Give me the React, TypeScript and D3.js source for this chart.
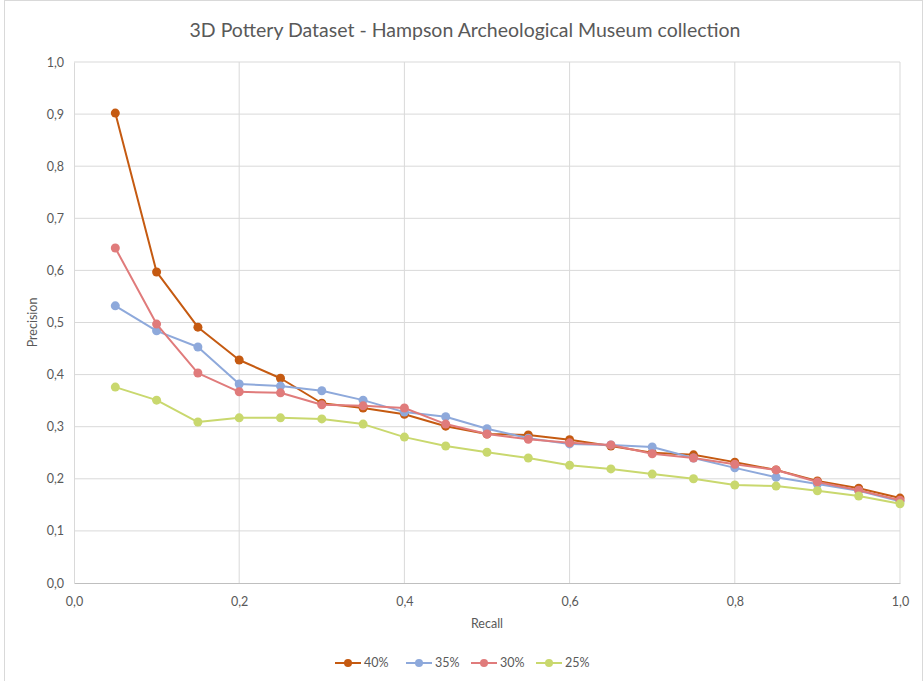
import { useEffect, useRef } from 'react'
import * as d3 from 'd3'

const recall = [0.05, 0.1, 0.15, 0.2, 0.25, 0.3, 0.35, 0.4, 0.45, 0.5, 0.55, 0.6, 0.65, 0.7, 0.75, 0.8, 0.85, 0.9, 0.95, 1.0]

const p40 = [0.902, 0.597, 0.491, 0.428, 0.393, 0.345, 0.336, 0.324, 0.301, 0.286, 0.284, 0.275, 0.263, 0.25, 0.246, 0.232, 0.217, 0.196, 0.182, 0.163]
const p35 = [0.532, 0.484, 0.453, 0.382, 0.378, 0.369, 0.351, 0.328, 0.319, 0.296, 0.278, 0.267, 0.265, 0.261, 0.24, 0.221, 0.203, 0.19, 0.177, 0.157]
const p30 = [0.643, 0.497, 0.403, 0.367, 0.365, 0.342, 0.34, 0.336, 0.305, 0.286, 0.276, 0.269, 0.265, 0.248, 0.24, 0.228, 0.217, 0.194, 0.178, 0.159]
const p25 = [0.376, 0.351, 0.309, 0.317, 0.317, 0.315, 0.305, 0.28, 0.263, 0.251, 0.24, 0.226, 0.219, 0.209, 0.2, 0.188, 0.186, 0.177, 0.167, 0.152]

const seriesNames = ['40%', '35%', '30%', '25%']
const seriesColors = ['#C55A11', '#8EA9DB', '#E07B7B', '#C9D86E']
const seriesValues = [p40, p35, p30, p25]

const xTicks = [0, 0.2, 0.4, 0.6, 0.8, 1.0]
const yTicks = [0, 0.1, 0.2, 0.3, 0.4, 0.5, 0.6, 0.7, 0.8, 0.9, 1.0]

export default function App() {
  const svgRef = useRef<SVGSVGElement>(null)
  const width = 923
  const height = 681

  useEffect(() => {
    if (!svgRef.current) return
    document.body.style.margin = '0'
    const svg = d3.select(svgRef.current)
    svg.selectAll('*').remove()

    const font = 'Lato, "Open Sans", sans-serif'
    const margin = { top: 62, right: 23, bottom: 98, left: 74 }
    const innerW = width - margin.left - margin.right
    const innerH = height - margin.top - margin.bottom

    // chart border
    svg.append('rect')
      .attr('x', 4.5).attr('y', 0.5)
      .attr('width', width - 5).attr('height', height)
      .attr('fill', 'white')
      .attr('stroke', '#d9d9d9')

    const x = d3.scaleLinear().domain([0, 1]).range([0, innerW])
    const y = d3.scaleLinear().domain([0, 1]).range([innerH, 0])

    const g = svg.append('g').attr('transform', `translate(${margin.left},${margin.top})`)

    // gridlines
    g.append('g')
      .selectAll('line.h')
      .data(yTicks.slice(1))
      .enter().append('line')
      .attr('x1', 0).attr('x2', innerW)
      .attr('y1', d => y(d)).attr('y2', d => y(d))
      .attr('stroke', '#d9d9d9').attr('stroke-width', 1)

    g.append('g')
      .selectAll('line.v')
      .data(xTicks.slice(1))
      .enter().append('line')
      .attr('x1', d => x(d)).attr('x2', d => x(d))
      .attr('y1', 0).attr('y2', innerH)
      .attr('stroke', '#d9d9d9').attr('stroke-width', 1)

    // axes
    const fmt = (d: d3.NumberValue) => d3.format('.1f')(d as number).replace('.', ',')

    const xAxis = g.append('g')
      .attr('transform', `translate(0,${innerH})`)
      .call(d3.axisBottom(x).tickValues(xTicks).tickFormat(fmt).tickSize(0).tickPadding(14))
    xAxis.select('.domain').attr('stroke', '#bfbfbf')
    xAxis.selectAll('text').attr('fill', '#595959').style('font-size', '12.5px').style('font-family', font)

    const yAxis = g.append('g')
      .call(d3.axisLeft(y).tickValues(yTicks).tickFormat(fmt).tickSize(0).tickPadding(10))
    yAxis.select('.domain').attr('stroke', '#d9d9d9')
    yAxis.selectAll('text').attr('fill', '#595959').style('font-size', '12.5px').style('font-family', font)

    // lines and markers
    const line = d3.line<number>()
      .x((_, i) => x(recall[i]))
      .y(d => y(d))

    seriesValues.forEach((vals, si) => {
      g.append('path')
        .datum(vals)
        .attr('fill', 'none')
        .attr('stroke', seriesColors[si])
        .attr('stroke-width', 2)
        .attr('stroke-linejoin', 'round')
        .attr('d', line)

      g.selectAll(`.m${si}`)
        .data(vals)
        .enter().append('circle')
        .attr('class', `m${si}`)
        .attr('cx', (_, i) => x(recall[i]))
        .attr('cy', d => y(d))
        .attr('r', 4.5)
        .attr('fill', seriesColors[si])
    })

    // title
    svg.append('text')
      .attr('x', 465).attr('y', 37)
      .attr('text-anchor', 'middle')
      .attr('fill', '#595959')
      .style('font-size', '19.5px')
      .style('font-family', font)
      .text('3D Pottery Dataset - Hampson Archeological Museum collection')

    // axis titles
    svg.append('text')
      .attr('x', margin.left + innerW / 2).attr('y', 628)
      .attr('text-anchor', 'middle')
      .attr('fill', '#595959')
      .style('font-size', '12.5px')
      .style('font-family', font)
      .text('Recall')

    svg.append('text')
      .attr('transform', `translate(37,${margin.top + innerH / 2}) rotate(-90)`)
      .attr('text-anchor', 'middle')
      .attr('fill', '#595959')
      .style('font-size', '12.5px')
      .style('font-family', font)
      .text('Precision')

    // legend
    const legendX = [335, 406, 471, 536]
    const legendY = 663
    seriesNames.forEach((name, i) => {
      const lg = svg.append('g').attr('transform', `translate(${legendX[i]},${legendY})`)
      lg.append('line')
        .attr('x1', 0).attr('x2', 26)
        .attr('y1', 0).attr('y2', 0)
        .attr('stroke', seriesColors[i]).attr('stroke-width', 2)
      lg.append('circle')
        .attr('cx', 13).attr('cy', 0).attr('r', 4)
        .attr('fill', seriesColors[i])
      lg.append('text')
        .attr('x', 29).attr('y', 4)
        .attr('fill', '#595959')
        .style('font-size', '12.5px')
        .style('font-family', font)
        .text(name)
    })
  }, [])

  return (
    <div style={{ position: 'absolute', left: 0, top: 0 }}>
      <svg ref={svgRef} width={width} height={height} style={{ display: 'block' }} />
    </div>
  )
}
